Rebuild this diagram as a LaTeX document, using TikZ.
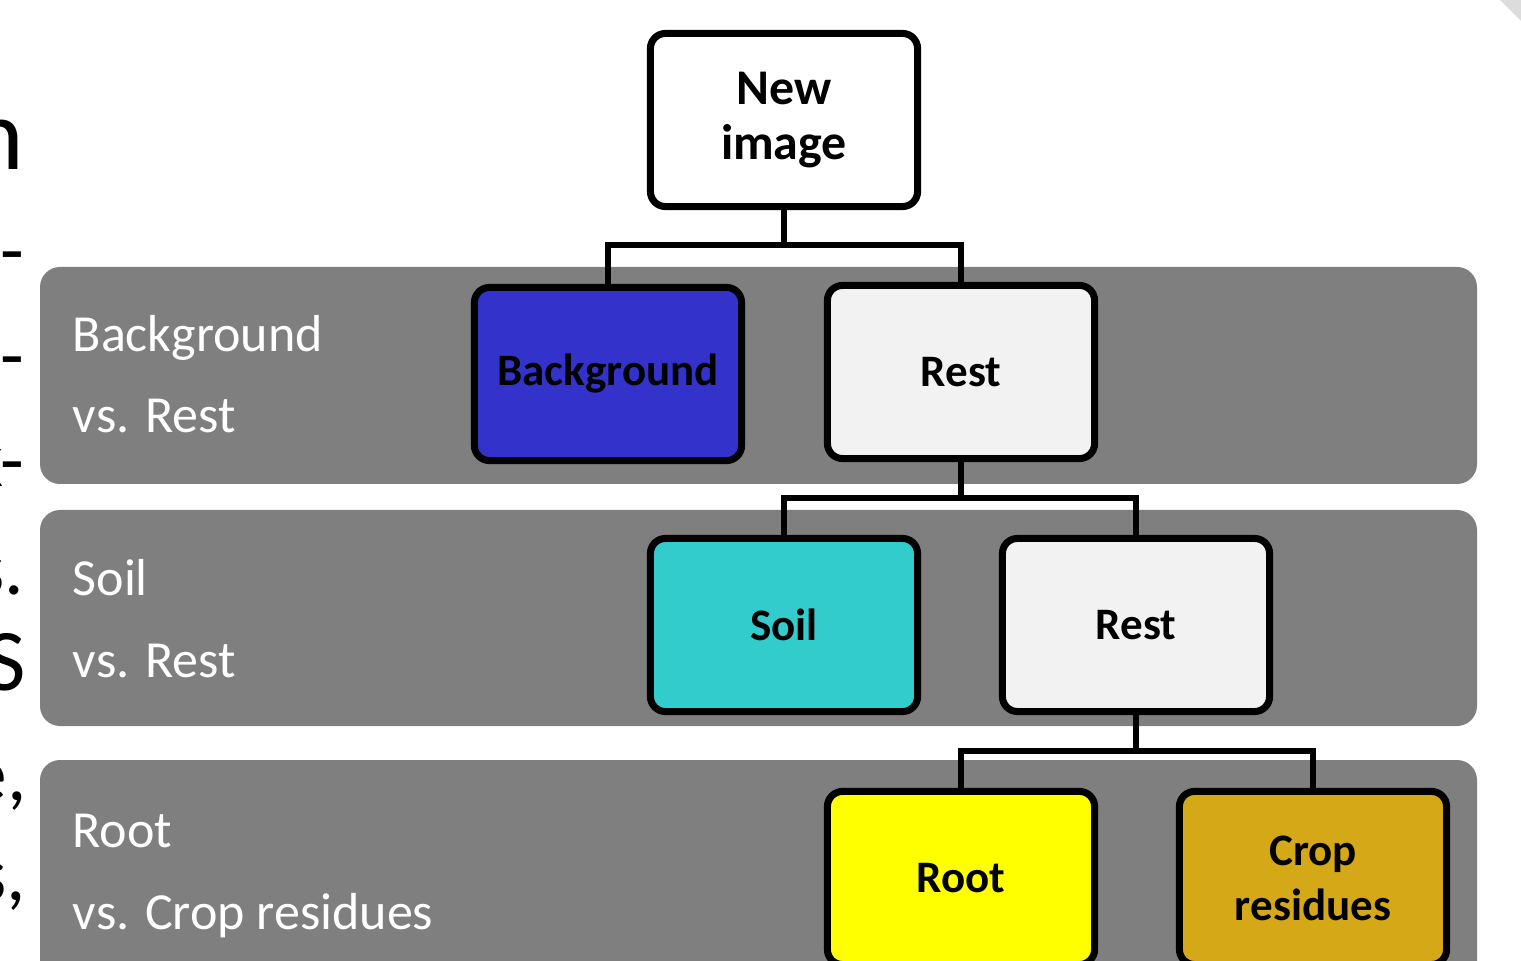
\documentclass[tikz,border=0pt]{standalone}
\usepackage{fontspec}
\setmainfont{Carlito}
\usepackage{tikz}
\usetikzlibrary{positioning}
\definecolor{bandgray}{HTML}{7F7F7F}
\definecolor{bgblue}{HTML}{3333CC}
\definecolor{soilcyan}{HTML}{33CCCC}
\definecolor{restgray}{HTML}{F2F2F2}
\definecolor{rootyellow}{HTML}{FFFF00}
\definecolor{cropgold}{HTML}{D4A817}
\definecolor{cornergray}{HTML}{DCDCDC}

\begin{document}
\begin{tikzpicture}[
  x=0.01cm, y=-0.01cm,
  tband/.style={fill=bandgray, rounded corners=0.2cm},
  tlabel/.style={text=white, font=\fontsize{14.8}{23.3}\selectfont, align=left, anchor=base west, inner sep=0pt},
  tbox/.style={draw=black, line width=2pt, rounded corners=0.15cm, minimum width=2.67cm, minimum height=1.73cm, align=center, font=\fontsize{12.8}{15.6}\selectfont\bfseries, inner sep=2pt},
  tlink/.style={draw=black, line width=1.6pt},
  tedge/.style={font=\fontsize{22}{26}\selectfont, anchor=base east, inner sep=0pt},
]
\useasboundingbox (0,0) rectangle (1521,961);
% cut-off slide text at the left edge
\node[tedge, font=\fontsize{29}{32}\selectfont] (e1) at (25,170) {n};
\node[tedge] (e2) at (25,277) {-};
\node[tedge] (e3) at (25,382) {-};
\node[tedge] (e4) at (25,487) {k-};
\node[tedge] (e5) at (25,594) {s.};
\node[tedge, font=\fontsize{25}{28}\selectfont] (e6) at (27,690) {S};
\node[tedge] (e7) at (27,800) {e,};
\node[tedge] (e8) at (27,900) {s,};
\fill[cornergray] (1500,0) -- (1521,0) -- (1521,21) -- cycle;
% bands
\fill[tband] (40,267) rectangle (1477,484);
\fill[tband] (40,510) rectangle (1477,726);
\fill[tband] (40,760) rectangle (1477,1000);
\node[tlabel] (l1) at (72,433) {Background\\vs. Rest};
\node[tlabel] (l2) at (72,677) {Soil\\vs. Rest};
\node[tlabel] (l3) at (72,929) {Root\\vs. Crop residues};
% tree
\node[tbox, fill=white, font=\fontsize{14.2}{15.6}\selectfont\bfseries] (new) at (784,120) {New\\image};
\node[tbox, fill=bgblue] (bg) at (608,374) {Background};
\node[tbox, fill=restgray] (rest1) at (961,372) {Rest};
\node[tbox, fill=soilcyan] (soil) at (784,625) {Soil};
\node[tbox, fill=restgray] (rest2) at (1136,625) {Rest};
\node[tbox, fill=rootyellow] (root) at (961,878) {Root};
\node[tbox, fill=cropgold] (crop) at (1313,878) {Crop\\residues};
\draw[tlink] (new.south) -- ++(0,35) coordinate (j1);
\draw[tlink] (bg.north) |- (j1) -| (rest1.north);
\draw[tlink] (rest1.south) -- ++(0,36) coordinate (j2);
\draw[tlink] (soil.north) |- (j2) -| (rest2.north);
\draw[tlink] (rest2.south) -- ++(0,36) coordinate (j3);
\draw[tlink] (root.north) |- (j3) -| (crop.north);
\end{tikzpicture}
\end{document}
